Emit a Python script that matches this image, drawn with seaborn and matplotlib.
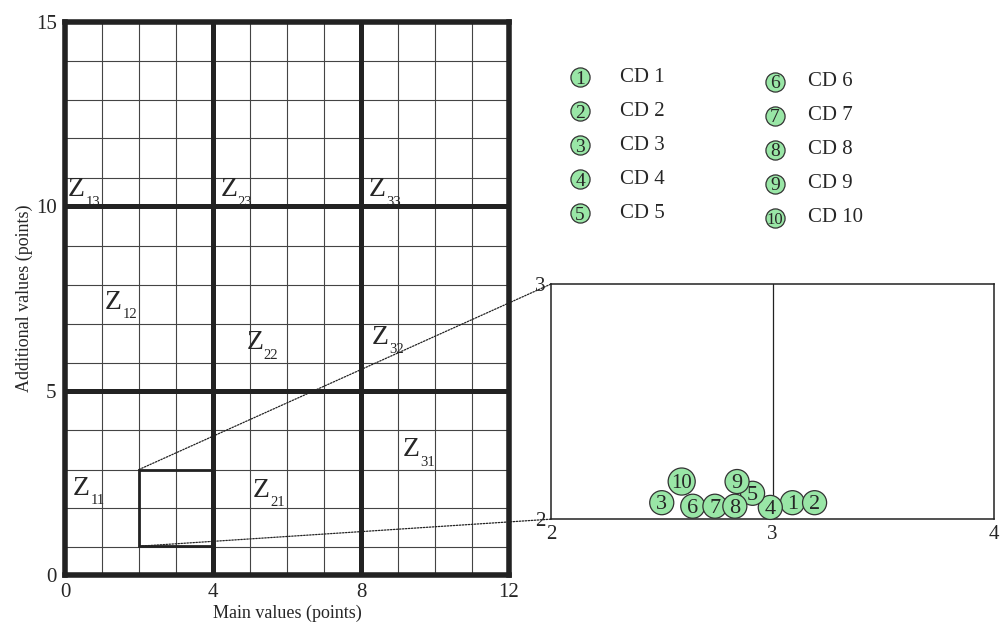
import matplotlib
matplotlib.use("Agg")
import matplotlib.pyplot as plt
import seaborn as sns
import pandas as pd
from matplotlib.patches import Rectangle, ConnectionPatch

# main grid
x_major = [4, 8]
y_major = [5, 10]
x_minor = [1, 2, 3, 5, 6, 7, 9, 10, 11]
y_minor = [0.76, 1.81, 2.86, 3.92, 5.76, 6.81, 7.86, 8.92, 10.76, 11.84, 12.89, 13.95]

zone_main = ["Z"] * 9
zone_sub = ["13", "23", "33", "12", "22", "32", "11", "21", "31"]
zone_x = [0.08, 4.2, 8.2, 1.08, 4.9, 8.3, 0.22, 5.08, 9.14]
zone_y = [10.45, 10.45, 10.45, 7.4, 6.3, 6.45, 2.35, 2.3, 3.4]

# zoomed region
zoom_x = [2, 4]
zoom_y = [0.78, 2.86]

# cluster points in the inset
cd_names = ["CD 1", "CD 2", "CD 3", "CD 4", "CD 5", "CD 6", "CD 7", "CD 8", "CD 9", "CD 10"]
cd_num = ["1", "2", "3", "4", "5", "6", "7", "8", "9", "10"]
cd_x = [3.09, 3.19, 2.50, 2.99, 2.91, 2.64, 2.74, 2.83, 2.84, 2.59]
cd_y = [2.07, 2.07, 2.07, 2.05, 2.11, 2.055, 2.055, 2.055, 2.16, 2.16]

green = "#99e6a6"

sns.set_theme(style="white")
plt.rcParams["font.family"] = ["Liberation Serif", "DejaVu Serif"]

fig = plt.figure(figsize=(10, 6.27), dpi=100)

# ---- main panel
ax = fig.add_axes([0.065, 0.083, 0.444, 0.882])
ax.set_xlim(0, 12)
ax.set_ylim(0, 15)
for v in x_minor:
    ax.axvline(v, color="#444444", lw=0.8, zorder=1)
for v in y_minor:
    ax.axhline(v, color="#444444", lw=0.8, zorder=1)
for v in x_major:
    ax.axvline(v, color="#222222", lw=3.6, zorder=2)
for v in y_major:
    ax.axhline(v, color="#222222", lw=3.6, zorder=2)
for s in ax.spines.values():
    s.set_linewidth(4)
    s.set_color("#222222")
ax.set_xticks([0, 4, 8, 12])
ax.set_yticks([0, 5, 10, 15])
ax.tick_params(labelsize=15, length=0, pad=6)
ax.set_xlabel("Main values (points)", fontsize=13, labelpad=2)
ax.set_ylabel("Additional values (points)", fontsize=13, labelpad=2)

for z, sub, zx, zy in zip(zone_main, zone_sub, zone_x, zone_y):
    ax.text(zx, zy, z, fontsize=20, ha="left", va="center", zorder=3)
    ax.annotate(sub, xy=(zx, zy), xytext=(12.5, -9), textcoords="offset points",
                fontsize=10.5, ha="left", va="center", zorder=3)

ax.add_patch(Rectangle((zoom_x[0], zoom_y[0]), zoom_x[1] - zoom_x[0], zoom_y[1] - zoom_y[0],
                       fill=False, lw=2, ec="#222222", zorder=3))

# ---- inset
ins = fig.add_axes([0.551, 0.172, 0.443, 0.375])
ins.set_xlim(2, 4)
ins.set_ylim(2, 3)
ins.axvline(3, color="#222222", lw=0.9)
for s in ins.spines.values():
    s.set_linewidth(1.1)
    s.set_color("#222222")
ins.set_xticks([2, 3, 4])
ins.set_yticks([2, 3])
ins.tick_params(labelsize=15, length=0, pad=4)
ins.set_facecolor("white")

df = pd.DataFrame({"x": cd_x, "y": cd_y, "num": cd_num, "name": cd_names})
marker_sizes = {n: (380 if len(n) > 1 else 300) for n in cd_num}
sns.scatterplot(data=df, x="x", y="y", size="num", sizes=marker_sizes, color=green,
                edgecolor="#333333", linewidth=0.9, legend=False, ax=ins, zorder=4, clip_on=False)
for _, r in df.iterrows():
    ins.annotate(r["num"], xy=(r["x"], r["y"]), xytext=(0, -1.5), textcoords="offset points",
                 fontsize=16 if len(r["num"]) == 1 else 15, ha="center", va="center", zorder=5)
ins.set_xlabel("")
ins.set_ylabel("")

# connectors
for ya, yb in [(zoom_y[1], 3), (zoom_y[0], 2)]:
    con = ConnectionPatch(xyA=(zoom_x[0], ya), coordsA=ax.transData,
                          xyB=(2, yb), coordsB=ins.transData,
                          ls=(0, (1.2, 1.2)), lw=0.9, color="#222222")
    fig.add_artist(con)

# ---- legend of the clusters
lg = fig.add_axes([0, 0, 1, 1])
lg.set_xlim(0, 1000)
lg.set_ylim(627, 0)
lg.axis("off")
lg.patch.set_alpha(0)
for i, (num, name) in enumerate(zip(cd_num, cd_names)):
    col, row = divmod(i, 5)
    cx = 580 + col * 195
    cy = 77 + row * 34 + col * 5
    lg.scatter(cx, cy, s=190, color=green, edgecolor="#333333", linewidth=0.9, zorder=3)
    lg.text(cx, cy + 2, num, fontsize=14 if len(num) == 1 else 12, ha="center", va="center", zorder=4)
    lg.text(cx + 40 - col * 7, cy, name, fontsize=15, ha="left", va="center")

fig.savefig("out.png", dpi=100)
